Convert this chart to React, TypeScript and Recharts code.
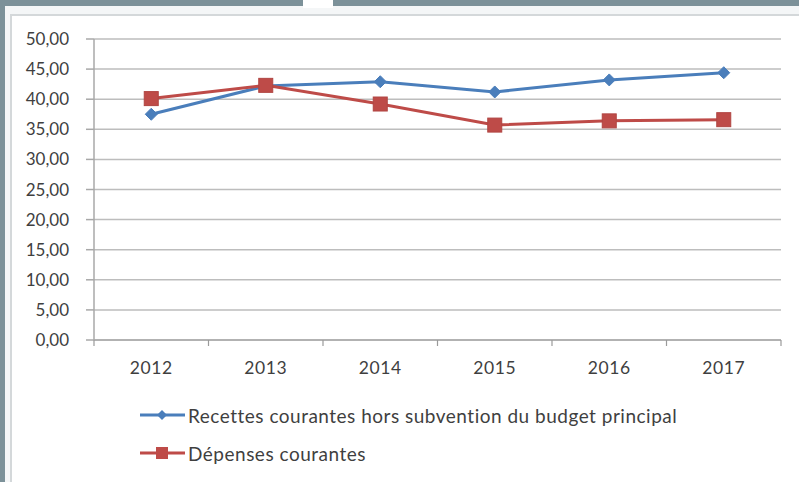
import React from 'react';
import { LineChart, Line, XAxis, YAxis, CartesianGrid, Legend } from 'recharts';

const years = ['2012', '2013', '2014', '2015', '2016', '2017'];
const recettes = [37.5, 42.2, 42.9, 41.2, 43.2, 44.4];
const depenses = [40.1, 42.3, 39.2, 35.7, 36.4, 36.6];
const yTicks = [0, 5, 10, 15, 20, 25, 30, 35, 40, 45, 50];

const data = years.map((year, i) => ({
  year,
  recettes: recettes[i],
  depenses: depenses[i],
}));

const W = 799;
const H = 482;
const PLOT_LEFT = 94;
const PLOT_RIGHT = 781;
const PLOT_BOTTOM = 340;
const BAND = (PLOT_RIGHT - PLOT_LEFT) / years.length;
const FONT = 'Lato, "Open Sans", sans-serif';
const TEXT = '#3f3f3f';
const BLUE = '#4a7ebb';
const RED = '#be4b48';

const fmt = (v: number) => v.toFixed(2).replace('.', ',');

const XTick = (props: any) => {
  const { x, payload, index } = props;
  return (
    <g>
      <line x1={x - BAND / 2} x2={x - BAND / 2} y1={PLOT_BOTTOM} y2={PLOT_BOTTOM + 6} stroke="#9a9a9a" strokeWidth={1.2} />
      {index === years.length - 1 && (
        <line x1={x + BAND / 2} x2={x + BAND / 2} y1={PLOT_BOTTOM} y2={PLOT_BOTTOM + 6} stroke="#9a9a9a" strokeWidth={1.2} />
      )}
      <text x={x} y={PLOT_BOTTOM + 34} textAnchor="middle" fill={TEXT} fontSize={17.5} fontFamily={FONT} letterSpacing={0.6}>
        {payload.value}
      </text>
    </g>
  );
};

const Diamond = (props: any) => {
  const { cx, cy } = props;
  if (cx == null || cy == null) return null;
  const r = 6;
  return <path d={`M${cx},${cy - r}L${cx + r},${cy}L${cx},${cy + r}L${cx - r},${cy}Z`} fill={BLUE} stroke={BLUE} strokeWidth={1} />;
};

const Square = (props: any) => {
  const { cx, cy } = props;
  if (cx == null || cy == null) return null;
  const s = 14;
  return <rect x={cx - s / 2} y={cy - s / 2} width={s} height={s} fill={RED} stroke="#b04542" strokeWidth={1} />;
};

const LegendContent = (props: any) => {
  const { payload } = props;
  const items = [...(payload || [])].sort((a: any, b: any) => (a.dataKey === 'recettes' ? -1 : b.dataKey === 'recettes' ? 1 : 0));
  return (
    <div style={{ fontFamily: FONT, fontSize: 19, color: TEXT, letterSpacing: 0.5 }}>
      {items.map((entry: any) => (
        <div key={entry.value} style={{ display: 'flex', alignItems: 'center', height: 38 }}>
          <svg width={46} height={18} style={{ marginRight: 2 }}>
            <line x1={0} x2={45} y1={9} y2={9} stroke={entry.color} strokeWidth={3} />
            {entry.dataKey === 'recettes' ? (
              <path d="M22,4L27,9L22,14L17,9Z" fill={BLUE} />
            ) : (
              <rect x={16} y={3} width={12} height={12} fill={RED} />
            )}
          </svg>
          <span>{entry.value}</span>
        </div>
      ))}
    </div>
  );
};

export default function App() {
  return (
    <div style={{ position: 'absolute', left: 0, top: 0, width: W, height: H, background: '#7c9199', overflow: 'hidden' }}>
      <div style={{ position: 'absolute', left: 5, top: 6, width: W - 5, height: H - 6, background: '#f4f6f7' }} />
      <div style={{ position: 'absolute', left: 303, top: 0, width: 30, height: 8, background: '#ffffff' }} />
      <div
        style={{
          position: 'absolute',
          left: 10,
          top: 14,
          width: W - 10,
          height: H - 14,
          background: '#ffffff',
          borderLeft: '2px solid #d4d8da',
          borderTop: '2px solid #d4d8da',
          boxSizing: 'border-box',
        }}
      />
      <div style={{ position: 'absolute', left: 0, top: 0 }}>
        <LineChart width={W} height={H} data={data} margin={{ top: 39, right: W - PLOT_RIGHT, left: 0, bottom: 102 }}>
          <CartesianGrid vertical={false} stroke="#bdbdbd" strokeWidth={1.5} />
          <XAxis
            dataKey="year"
            height={40}
            padding={{ left: BAND / 2, right: BAND / 2 }}
            axisLine={{ stroke: '#a8a8a8', strokeWidth: 1.5 }}
            tickLine={false}
            tick={<XTick />}
            interval={0}
          />
          <YAxis
            width={PLOT_LEFT}
            domain={[0, 50]}
            ticks={yTicks}
            tickFormatter={fmt}
            axisLine={{ stroke: '#a8a8a8', strokeWidth: 1.5 }}
            tickLine={{ stroke: '#a8a8a8', strokeWidth: 1.5 }}
            tickSize={8}
            tickMargin={17}
            tick={{ fill: TEXT, fontSize: 17, fontFamily: FONT }}
          />
          <Legend
            layout="vertical"
            align="center"
            verticalAlign="middle"
            content={<LegendContent />}
            wrapperStyle={{ left: 140, top: 396, width: 640, height: 80 }}
          />
          <Line
            type="linear"
            dataKey="recettes"
            name="Recettes courantes hors subvention du budget principal"
            stroke={BLUE}
            strokeWidth={3}
            dot={<Diamond />}
            isAnimationActive={false}
          />
          <Line
            type="linear"
            dataKey="depenses"
            name="Dépenses courantes"
            stroke={RED}
            strokeWidth={3}
            dot={<Square />}
            isAnimationActive={false}
          />
        </LineChart>
      </div>
    </div>
  );
}
